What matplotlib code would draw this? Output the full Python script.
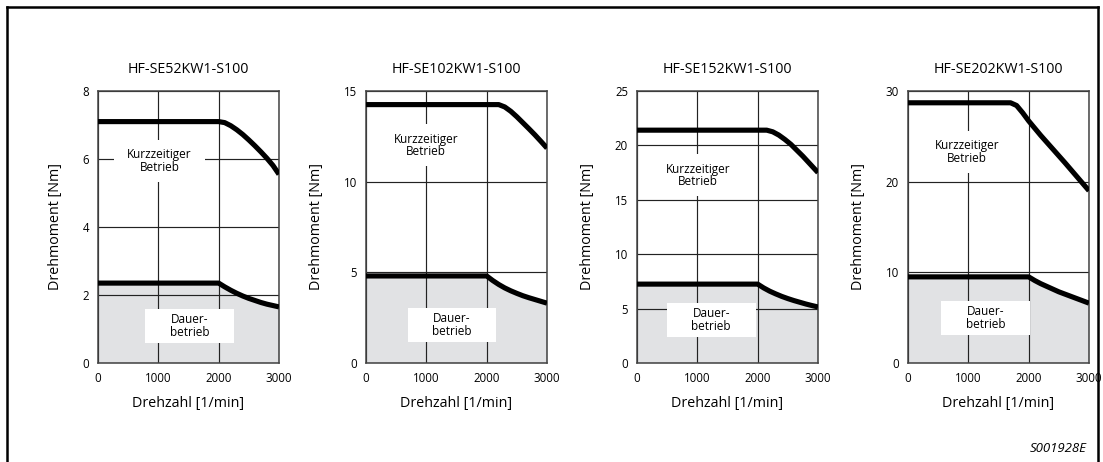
import matplotlib
matplotlib.use("Agg")
import matplotlib.pyplot as plt
from matplotlib.lines import Line2D
from matplotlib.patches import Rectangle

plt.rcParams['font.family'] = ['Open Sans', 'DejaVu Sans']

# Motor models
titles = ["HF-SE52KW1-S100", "HF-SE102KW1-S100", "HF-SE152KW1-S100", "HF-SE202KW1-S100"]

# Speed axis ticks [1/min]
x_ticks = [0, 1000, 2000, 3000]

# Torque axis ticks [Nm] per model
y_ticks_52 = [0, 2, 4, 6, 8]
y_ticks_102 = [0, 5, 10, 15]
y_ticks_152 = [0, 5, 10, 15, 20, 25]
y_ticks_202 = [0, 10, 20, 30]

# Short-time operation (peak torque) curves
peak_speed_52 = [0, 2000, 2100, 2200, 2300, 2400, 2500, 2600, 2700, 2800, 2900, 3000]
peak_torque_52 = [7.1, 7.1, 7.07, 6.98, 6.86, 6.72, 6.56, 6.39, 6.21, 6.02, 5.81, 5.55]
peak_speed_102 = [0, 2200, 2300, 2400, 2500, 2600, 2700, 2800, 2900, 3000]
peak_torque_102 = [14.25, 14.25, 14.12, 13.88, 13.58, 13.25, 12.92, 12.58, 12.22, 11.85]
peak_speed_152 = [0, 2150, 2250, 2350, 2450, 2550, 2650, 2750, 2850, 2950, 3000]
peak_torque_152 = [21.4, 21.4, 21.25, 20.95, 20.55, 20.1, 19.55, 19.0, 18.4, 17.8, 17.5]
peak_speed_202 = [0, 1700, 1800, 1900, 2000, 2200, 2400, 2600, 2800, 3000]
peak_torque_202 = [28.7, 28.7, 28.4, 27.6, 26.7, 25.1, 23.6, 22.1, 20.55, 19.0]

# Continuous operation (rated torque) curves
cont_speed = [0, 2000, 2100, 2200, 2300, 2400, 2500, 2600, 2700, 2800, 2900, 3000]
cont_torque_52 = [2.35, 2.35, 2.24, 2.14, 2.05, 1.97, 1.90, 1.84, 1.78, 1.73, 1.69, 1.65]
cont_torque_102 = [4.8, 4.8, 4.55, 4.33, 4.14, 3.98, 3.84, 3.71, 3.60, 3.50, 3.40, 3.30]
cont_torque_152 = [7.25, 7.25, 6.9, 6.6, 6.35, 6.12, 5.92, 5.74, 5.58, 5.42, 5.28, 5.15]
cont_torque_202 = [9.5, 9.5, 9.1, 8.75, 8.45, 8.15, 7.85, 7.6, 7.35, 7.1, 6.85, 6.6]

label_short = "Kurzzeitiger\nBetrieb"
label_cont = "Dauer-\nbetrieb"
xlabel = "Drehzahl [1/min]"
ylabel = "Drehmoment [Nm]"
footnote = "S001928E"

W, H = 1103, 462
fig = plt.figure(figsize=(W / 100, H / 100), dpi=100)

# Outer frame (open at the bottom)
lw_frame = 1.8
for xs, ys in [((7, 7), (0, 455)), ((7, 1098), (455, 455)), ((1098, 1098), (455, 0))]:
    fig.add_artist(Line2D([x / W for x in xs], [y / H for y in ys],
                          color='black', lw=lw_frame, transform=fig.transFigure,
                          solid_capstyle='projecting'))

panels = [
    (y_ticks_52, peak_speed_52, peak_torque_52, cont_torque_52),
    (y_ticks_102, peak_speed_102, peak_torque_102, cont_torque_102),
    (y_ticks_152, peak_speed_152, peak_torque_152, cont_torque_152),
    (y_ticks_202, peak_speed_202, peak_torque_202, cont_torque_202),
]
lefts_px = [98, 366, 637, 908]
# label box centres in axes fraction: (short x, short y, cont x, cont y)
label_pos = [
    (0.34, 0.743, 0.505, 0.136),
    (0.33, 0.80, 0.475, 0.14),
    (0.337, 0.69, 0.41, 0.158),
    (0.326, 0.775, 0.43, 0.165),
]

ax_w, ax_h, ax_bottom = 181, 272, 363
grid_color = '#222222'
fill_color = '#e1e2e4'

for i, (yt, ps, pt, ct) in enumerate(panels):
    ax = fig.add_axes([lefts_px[i] / W, (H - ax_bottom) / H, ax_w / W, ax_h / H])
    ax.set_xlim(0, 3000)
    ax.set_ylim(0, yt[-1])
    ax.set_xticks(x_ticks)
    ax.set_yticks(yt)
    ax.tick_params(length=0, labelsize=8.3, pad=6.5)
    for s in ax.spines.values():
        s.set_color('#444444')
        s.set_linewidth(1.1)
    ax.grid(True, color=grid_color, lw=0.85, zorder=1)
    ax.set_axisbelow(True)

    ax.fill_between(cont_speed, 0, ct, color=fill_color, lw=0, zorder=0.5)

    ax.plot(ps, pt, color='black', lw=3.7, solid_capstyle='butt',
            solid_joinstyle='round', zorder=4)
    ax.plot(cont_speed, ct, color='black', lw=3.7, solid_capstyle='butt',
            solid_joinstyle='round', zorder=4)

    sx, sy, cx, cy = label_pos[i]
    ax.add_patch(Rectangle((sx - 0.25, sy - 0.077), 0.5, 0.155, transform=ax.transAxes,
                           facecolor='white', edgecolor='none', zorder=2))
    ax.text(sx, sy, label_short, transform=ax.transAxes, ha='center', va='center',
            fontsize=8.5, linespacing=0.95, zorder=3)
    ax.add_patch(Rectangle((cx - 0.245, cy - 0.0625), 0.49, 0.125, transform=ax.transAxes,
                           facecolor='white', edgecolor='none', zorder=2))
    ax.text(cx, cy, label_cont, transform=ax.transAxes, ha='center', va='center',
            fontsize=8.5, linespacing=0.95, zorder=3)

    ax.set_title(titles[i], fontsize=10.3, pad=13)
    ax.set_xlabel(xlabel, fontsize=10.3, labelpad=8)
    ax.set_ylabel(ylabel, fontsize=10.3, labelpad=14)

fig.text(1087 / W, 1 - 448 / H, footnote, ha='right', va='center',
         fontsize=9.5, style='italic')

fig.savefig("out.png", dpi=100)
